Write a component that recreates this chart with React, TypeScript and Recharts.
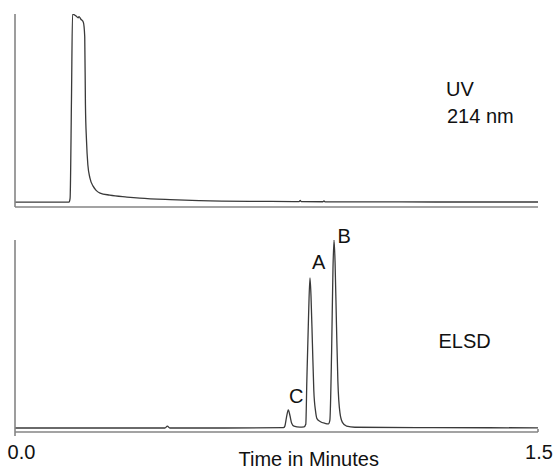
import { LineChart, Line, XAxis, YAxis } from "recharts";

// UV 214 nm trace (minutes, relative signal)
const uvTime = [
  0, 0.05, 0.1, 0.155, 0.158, 0.162, 0.165, 0.169, 0.176, 0.181, 0.1835, 0.189, 0.196,
  0.2, 0.202, 0.205, 0.209, 0.215, 0.224, 0.232, 0.244, 0.272, 0.321, 0.358, 0.445,
  0.53, 0.674, 0.8, 0.815, 0.818, 0.821, 0.883, 0.886, 0.889, 0.95, 1.104, 1.3, 1.5,
];
const uvSignal = [
  0, 0, 0, 0, 2, 55, 100, 99.7, 98.8, 98, 98.6, 97.2, 95.6,
  88, 52, 33, 19.7, 12.8, 8.5, 6.4, 4.8, 3.7, 2.7, 2.1, 1.3,
  0.8, 0.4, 0.3, 0.25, 0.9, 0.25, 0.2, 0.7, 0.2, 0.15, 0.1, 0.05, 0.05,
];

// ELSD trace
const elsdTime = [
  0, 0.2, 0.43, 0.437, 0.444, 0.6, 0.77, 0.774, 0.7785, 0.7838, 0.7887, 0.7935, 0.8,
  0.817, 0.829, 0.834, 0.837, 0.842, 0.846, 0.849, 0.853, 0.857, 0.862, 0.866, 0.875,
  0.889, 0.899, 0.903, 0.908, 0.912, 0.915, 0.918, 0.922, 0.926, 0.932, 0.939, 0.951,
  0.975, 1.2, 1.5,
];
const elsdSignal = [
  0, 0, 0, 1, 0, 0, 0.2, 1, 5.5, 9.6, 6.5, 2.5, 1,
  0.5, 0.6, 2, 25, 60, 79.8, 70, 45, 20, 9, 5, 3.5,
  2.5, 2.2, 4, 40, 85, 100, 88, 55, 25, 8, 3, 1,
  0.4, 0.2, 0.1,
];

const timeTicks = [0, 1.5];
const timeTickLabels = ["0.0", "1.5"];

const uvRows = uvTime.map((t, i) => ({ t, v: uvSignal[i] }));
const elsdRows = elsdTime.map((t, i) => ({ t, v: elsdSignal[i] }));

const TRACE = "#3a3a3a";
const AXIS = "#858585";
const FONT = "'Liberation Sans', Arial, sans-serif";

function TimeTick(props: any) {
  const { x, index } = props;
  const y = 212; // axis line of the lower panel
  return (
    <g>
      <line x1={x} x2={x} y1={y} y2={index === 0 ? y + 4 : y - 3} stroke={AXIS} strokeWidth={1.6} />
      <text x={x + (index === 0 ? 6.5 : 1)} y={y + 27} textAnchor="middle" fontSize={20} fontFamily={FONT} fill="#111">
        {timeTickLabels[index]}
      </text>
    </g>
  );
}

export default function App() {
  return (
    <div style={{ position: "absolute", left: 0, top: 0, width: 555, height: 468, background: "#fff" }}>
      <div style={{ position: "absolute", left: 0, top: 0 }}>
        <LineChart width={555} height={220} data={uvRows} margin={{ top: 14, right: 17, left: 14, bottom: 12 }}>
          <XAxis dataKey="t" type="number" domain={[0, 1.5]} height={1} tick={false} tickLine={false}
            axisLine={{ stroke: AXIS, strokeWidth: 1.6 }} />
          <YAxis type="number" domain={[-2.6, 100]} width={1} tick={false} tickLine={false} allowDataOverflow
            axisLine={{ stroke: AXIS, strokeWidth: 1.6 }} />
          <Line dataKey="v" type="monotone" stroke={TRACE} strokeWidth={1.3} dot={false} isAnimationActive={false} />
        </LineChart>
      </div>
      <div style={{ position: "absolute", left: 0, top: 220 }}>
        <LineChart width={555} height={248} data={elsdRows} margin={{ top: 20, right: 17, left: 14, bottom: 35 }}>
          <XAxis dataKey="t" type="number" domain={[0, 1.5]} ticks={timeTicks} interval={0} height={1}
            tickSize={0} tickMargin={0} tickLine={false} tick={<TimeTick />}
            axisLine={{ stroke: AXIS, strokeWidth: 1.6 }} />
          <YAxis type="number" domain={[-2.13, 100]} width={1} tick={false} tickLine={false} allowDataOverflow
            axisLine={{ stroke: AXIS, strokeWidth: 1.6 }} />
          <Line dataKey="v" type="monotone" stroke={TRACE} strokeWidth={1.3} dot={false} isAnimationActive={false} />
        </LineChart>
      </div>
      <svg width={555} height={468} style={{ position: "absolute", left: 0, top: 0, pointerEvents: "none", overflow: "visible" }}>
        <g fontFamily={FONT} fontSize={20} fill="#111">
          <text x={446} y={96}>UV</text>
          <text x={447} y={122.7}>214 nm</text>
          <text x={438.5} y={348}>ELSD</text>
          <text x={312} y={268.7}>A</text>
          <text x={337.5} y={242.7}>B</text>
          <text x={289} y={402.7}>C</text>
          <text x={238.5} y={465.5}>Time in Minutes</text>
        </g>
      </svg>
    </div>
  );
}
